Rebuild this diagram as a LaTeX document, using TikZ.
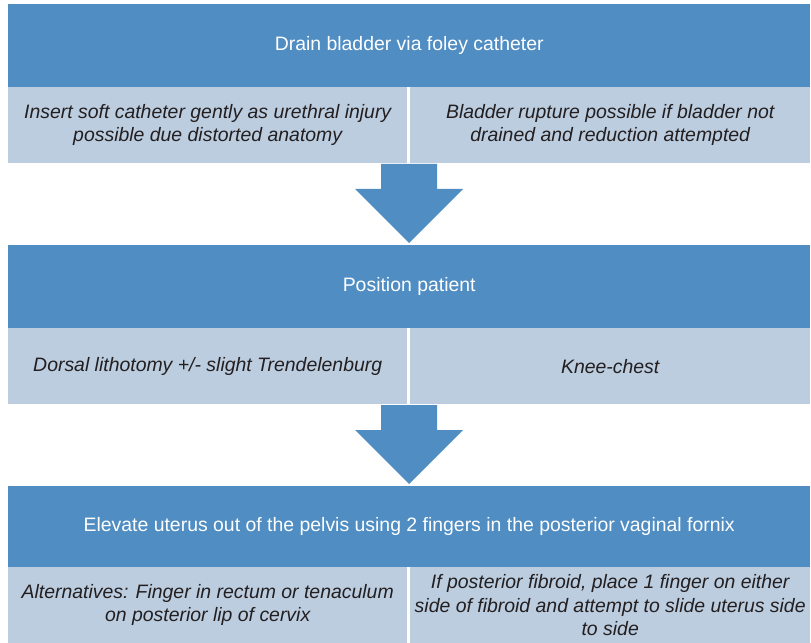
\documentclass[tikz,border=0pt]{standalone}
\usepackage{fontspec}
\setmainfont{Liberation Sans}
\definecolor{hdrblue}{RGB}{79,141,195}
\definecolor{lightblue}{RGB}{188,205,224}
\definecolor{txtgray}{RGB}{35,31,32}
\tikzset{
  hdr/.style={fill=hdrblue, text=white, inner sep=0pt, anchor=north west,
    minimum width=802bp, minimum height=83bp, align=center,
    font=\fontsize{19.5}{23.5}\selectfont},
  sub/.style={fill=lightblue, text=txtgray, inner sep=0pt, anchor=north west,
    minimum height=76bp, align=center,
    font=\fontsize{19.5}{23.5}\selectfont\itshape},
  blockarrow/.style={fill=hdrblue, draw=none}
}
\begin{document}
\begin{tikzpicture}[x=1bp,y=-1bp]
\useasboundingbox (0,0) rectangle (811,643);
% row 1
\node[hdr] (h1) at (8,4) {Drain bladder via foley catheter};
\node[sub, minimum width=399bp] (l1) at (8,87) {Insert soft catheter gently as urethral injury\\possible due distorted anatomy};
\node[sub, minimum width=400bp] (r1) at (410,87) {Bladder rupture possible if bladder not\\drained and reduction attempted};
% arrow 1
\fill[blockarrow] (381,164) -- (437,164) -- (437,189) -- (463,189) -- (409,243) -- (355,189) -- (381,189) -- cycle;
% row 2
\node[hdr] (h2) at (8,245) {Position patient};
\node[sub, minimum width=399bp] (l2) at (8,328) {Dorsal lithotomy +/- slight Trendelenburg};
\node[sub, minimum width=400bp] (r2) at (410,328) {Knee-chest};
% arrow 2
\fill[blockarrow] (381,405) -- (437,405) -- (437,430) -- (463,430) -- (409,484) -- (355,430) -- (381,430) -- cycle;
% row 3
\node[hdr, minimum height=81bp] (h3) at (8,486) {Elevate uterus out of the pelvis using 2 fingers in the posterior vaginal fornix};
\node[sub, minimum width=399bp] (l3) at (8,567) {Alternatives: Finger in rectum or tenaculum\\on posterior lip of cervix};
\node[sub, minimum width=400bp] (r3) at (410,567) {If posterior fibroid, place 1 finger on either\\side of fibroid and attempt to slide uterus side\\to side};
\end{tikzpicture}
\end{document}
